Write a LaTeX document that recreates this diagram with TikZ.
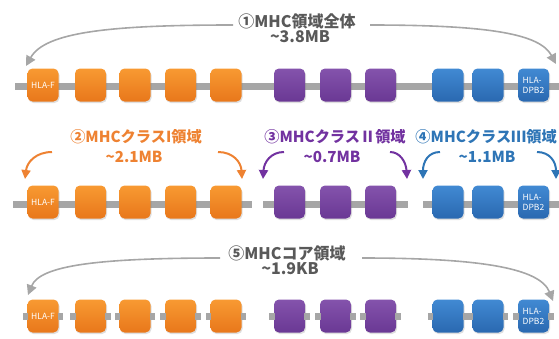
\documentclass[tikz,border=0pt]{standalone}
\usepackage{fontspec}
\setmainfont{Noto Sans CJK JP}
\usetikzlibrary{arrows.meta,shadows}
\definecolor{orT}{HTML}{F89A32}
\definecolor{orB}{HTML}{E8771B}
\definecolor{puT}{HTML}{8453AC}
\definecolor{puB}{HTML}{6A3894}
\definecolor{blT}{HTML}{418AD3}
\definecolor{blB}{HTML}{2A68B0}
\definecolor{orTxt}{HTML}{EE8232}
\definecolor{puTxt}{HTML}{7232A0}
\definecolor{blTxt}{HTML}{2E75B6}
\definecolor{grTxt}{HTML}{595959}
\definecolor{barC}{HTML}{A6A6A6}
\tikzset{
  gene/.style={rounded corners=5pt, minimum width=31pt, minimum height=33pt, inner sep=0pt,
    drop shadow={shadow xshift=1pt, shadow yshift=-1.5pt, opacity=0.25}},
  og/.style={gene, top color=orT, bottom color=orB},
  pg/.style={gene, top color=puT, bottom color=puB},
  bg/.style={gene, top color=blT, bottom color=blB},
  gname/.style={text=white, font=\fontsize{8.5}{10}\selectfont, align=left},
  barline/.style={draw=barC, line width=7pt},
  stub/.style={draw=barC, line width=7pt},
  lbl/.style={font=\fontsize{16}{18}\selectfont\bfseries, inner sep=0pt},
  lblb/.style={font=\fontsize{15.2}{18}\selectfont\bfseries, inner sep=0pt},
  grarrow/.style={draw=barC, line width=1.6pt, -{Triangle[length=10pt,width=10pt]}},
  orarrow/.style={draw=orTxt, line width=2pt, -{Triangle[length=9pt,width=9pt]}},
  puarrow/.style={draw=puTxt, line width=2pt, -{Triangle[length=9pt,width=9pt]}},
  blarrow/.style={draw=blTxt, line width=2pt, -{Triangle[length=9pt,width=9pt]}},
}
\begin{document}
\begin{tikzpicture}[x=1pt,y=-1pt]
\useasboundingbox (0,0) rectangle (559,338);
% ---------- Row 1 ----------
\coordinate (r1s) at (15,86);
\coordinate (r1e) at (559,86);
\draw[barline] (r1s) -- (r1e);
\node[og] (a1) at (43,85) {};
\node[gname] at (a1) {HLA-F};
\node[og] (a2) at (90.5,85) {};
\node[og] (a3) at (135,85) {};
\node[og] (a4) at (180.5,85) {};
\node[og] (a5) at (226,85) {};
\node[pg] (a6) at (289.5,85) {};
\node[pg] (a7) at (335.5,85) {};
\node[pg] (a8) at (380.5,85) {};
\node[bg] (a9) at (448,85) {};
\node[bg] (a10) at (488,85) {};
\node[bg] (a11) at (533.5,85) {};
\node[gname] at (a11) {HLA-\\DPB2};
\node[lbl, text=grTxt] (t1a) at (297,21) {①MHC領域全体};
\node[lbl, text=grTxt] (t1b) at (300,37) {\textasciitilde3.8MB};
\coordinate (g1s) at (233,25);
\coordinate (g1e) at (26,66);
\coordinate (g2s) at (370,25);
\coordinate (g2e) at (556,64);
\draw[grarrow] (g1s) .. controls (110,25) and (45,32) .. (g1e);
\draw[grarrow] (g2s) .. controls (490,25) and (540,34) .. (g2e);
% ---------- Row 2 ----------
\coordinate (b1s) at (13,204);
\coordinate (b1e) at (252,204);
\coordinate (b2s) at (263,204);
\coordinate (b2e) at (408,204);
\coordinate (b3s) at (423,204);
\coordinate (b3e) at (559,204);
\draw[barline] (b1s) -- (b1e);
\draw[barline] (b2s) -- (b2e);
\draw[barline] (b3s) -- (b3e);
\node[og] (c1) at (43,202) {};
\node[gname] at (c1) {HLA-F};
\node[og] (c2) at (90.5,202) {};
\node[og] (c3) at (135,202) {};
\node[og] (c4) at (180.5,202) {};
\node[og] (c5) at (226,202) {};
\node[pg] (c6) at (289.5,202) {};
\node[pg] (c7) at (335.5,202) {};
\node[pg] (c8) at (380.5,202) {};
\node[bg] (c9) at (448,202) {};
\node[bg] (c10) at (488,202) {};
\node[bg] (c11) at (533.5,202) {};
\node[gname] at (c11) {HLA-\\DPB2};
\node[lblb, text=orTxt] (t2a) at (136,137) {②MHCクラスI領域};
\node[lblb, text=orTxt] (t2b) at (134,157) {\textasciitilde2.1MB};
\node[lblb, text=puTxt] (t3a) at (335,137) {③MHCクラスⅡ領域};
\node[lblb, text=puTxt] (t3b) at (332,157) {\textasciitilde0.7MB};
\node[lblb, text=blTxt, anchor=east] (t4a) at (557,137) {④MHCクラスⅢ領域};
\node[lblb, text=blTxt] (t4b) at (487,157) {\textasciitilde1.1MB};
\coordinate (o1s) at (52,152);  \coordinate (o1e) at (25,179);
\coordinate (o2s) at (218,152); \coordinate (o2e) at (242,179);
\coordinate (p1s) at (284,152); \coordinate (p1e) at (263,179);
\coordinate (p2s) at (390,152); \coordinate (p2e) at (407,179);
\coordinate (q1s) at (440,152); \coordinate (q1e) at (423,179);
\coordinate (q2s) at (537,152); \coordinate (q2e) at (556,179);
\draw[orarrow] (o1s) .. controls (36,152) and (27,162) .. (o1e);
\draw[orarrow] (o2s) .. controls (233,152) and (241,162) .. (o2e);
\draw[puarrow] (p1s) .. controls (271,152) and (264,162) .. (p1e);
\draw[puarrow] (p2s) .. controls (400,152) and (406,162) .. (p2e);
\draw[blarrow] (q1s) .. controls (428,152) and (423,162) .. (q1e);
\draw[blarrow] (q2s) .. controls (550,152) and (556,162) .. (q2e);
% ---------- Row 3 ----------
\foreach \n/\x/\s in {e1/43/og,e2/90.5/og,e3/135/og,e4/180.5/og,e5/226/og,e6/289.5/pg,e7/335.5/pg,e8/380.5/pg,e9/448/bg,e10/488/bg,e11/533.5/bg}{
  \node[\s] (\n) at (\x,316) {};
  \draw[stub] ([xshift=-4.5pt]\n.west) -- ([xshift=1pt]\n.west);
  \draw[stub] ([xshift=-1pt]\n.east) -- ([xshift=4.5pt]\n.east);
}
\node[gname] at (e1) {HLA-F};
\node[gname] at (e11) {HLA-\\DPB2};
\node[lbl, text=grTxt] (t5a) at (287,253) {⑤MHCコア領域};
\node[lbl, text=grTxt] (t5b) at (290,269) {\textasciitilde1.9KB};
\coordinate (h1s) at (220,258);
\coordinate (h1e) at (28,295);
\coordinate (h2s) at (362,258);
\coordinate (h2e) at (553,301);
\draw[grarrow] (h1s) .. controls (100,258) and (40,265) .. (h1e);
\draw[grarrow] (h2s) .. controls (480,258) and (540,268) .. (h2e);
\end{tikzpicture}
\end{document}
